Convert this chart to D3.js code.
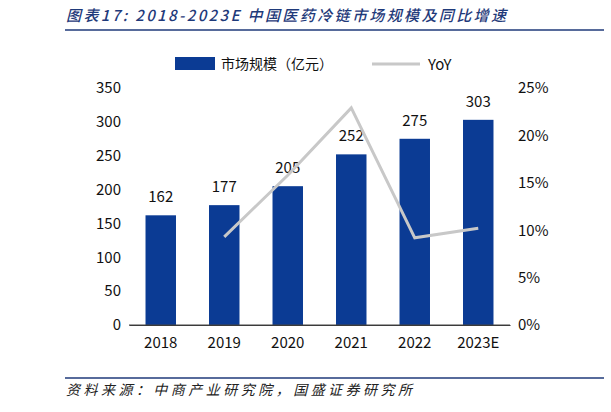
<!DOCTYPE html>
<html><head><meta charset="utf-8">
<script src="https://cdn.jsdelivr.net/npm/d3@7"></script>
<style>body{margin:0;background:#fff}text{font-family:"Noto Sans CJK SC","Liberation Sans",sans-serif}</style>
</head><body><svg id="c" width="611" height="412"></svg>
<script>
const categories=["2018","2019","2020","2021","2022","2023E"];
const marketSize=[162,177,205,252,275,303];
const yoy=[null,9.3,15.8,22.9,9.2,10.2];
const leftTicks=[0,50,100,150,200,250,300,350];
const rightTicks=[0,5,10,15,20,25];
const title="图表17:  2018-2023E 中国医药冷链市场规模及同比增速";
const source="资料来源：中商产业研究院，国盛证券研究所";

const svg=d3.select("#c");
const blue="#0b3b94", gray="#c8c8c8", titleBlue="#1f3a7a";
svg.append("text").attr("x",66).attr("y",21).attr("font-size",15).attr("font-style","italic").attr("font-weight",500).attr("fill",titleBlue).attr("textLength",440).attr("lengthAdjust","spacing").text(title);
svg.append("line").attr("x1",65).attr("x2",604).attr("y1",30).attr("y2",30).attr("stroke",titleBlue).attr("stroke-width",1.5);
svg.append("line").attr("x1",65).attr("x2",604).attr("y1",378).attr("y2",378).attr("stroke",titleBlue).attr("stroke-width",1.5);
svg.append("text").attr("x",66).attr("y",395).attr("font-size",14).attr("font-style","italic").attr("fill","#222").attr("textLength",346).attr("lengthAdjust","spacing").text(source);

const x=d3.scaleBand().domain(categories).range([129,510]).paddingInner(0.52).paddingOuter(0.26);
const yL=d3.scaleLinear().domain([0,350]).range([325,88]);
const yR=d3.scaleLinear().domain([0,25]).range([325,88]);

svg.selectAll("rect.bar").data(marketSize).join("rect").attr("class","bar")
 .attr("x",(d,i)=>x(categories[i])).attr("width",x.bandwidth())
 .attr("y",d=>yL(d)).attr("height",d=>325-yL(d)).attr("fill",blue);
svg.selectAll("text.lab").data(marketSize).join("text").attr("class","lab")
 .attr("x",(d,i)=>x(categories[i])+x.bandwidth()/2).attr("y",d=>yL(d)-13)
 .attr("text-anchor","middle").attr("font-size",15).attr("fill","#111").text(d=>d);

const line=d3.line().defined(d=>d!=null).x((d,i)=>x(categories[i])+x.bandwidth()/2).y(d=>yR(d));
svg.append("path").datum(yoy).attr("d",line).attr("fill","none").attr("stroke",gray).attr("stroke-width",3);

const fs=15;
const axL=svg.append("g").attr("transform","translate(129,0)").call(d3.axisLeft(yL).tickValues(leftTicks).tickSize(0).tickPadding(8));
const axR=svg.append("g").attr("transform","translate(510,0)").call(d3.axisRight(yR).tickValues(rightTicks).tickSize(0).tickPadding(8).tickFormat(d=>d+"%"));
const axB=svg.append("g").attr("transform","translate(0,325)").call(d3.axisBottom(x).tickSize(0).tickPadding(12));
[axL,axR,axB].forEach(a=>{a.selectAll("text").attr("font-size",fs).attr("fill","#111");a.select(".domain").attr("stroke","#333");});
axL.select(".domain").remove();axR.select(".domain").remove();
svg.append("line").attr("x1",129).attr("x2",510).attr("y1",325).attr("y2",325).attr("stroke","#444");

svg.append("rect").attr("x",175).attr("y",57).attr("width",40).attr("height",13).attr("fill",blue);
svg.append("text").attr("x",221).attr("y",69).attr("font-size",14).attr("fill","#111").text("市场规模（亿元）");
svg.append("line").attr("x1",372).attr("x2",420).attr("y1",64).attr("y2",64).attr("stroke",gray).attr("stroke-width",3);
svg.append("text").attr("x",428).attr("y",70).attr("font-size",15).attr("fill","#111").text("YoY");
</script></body></html>
